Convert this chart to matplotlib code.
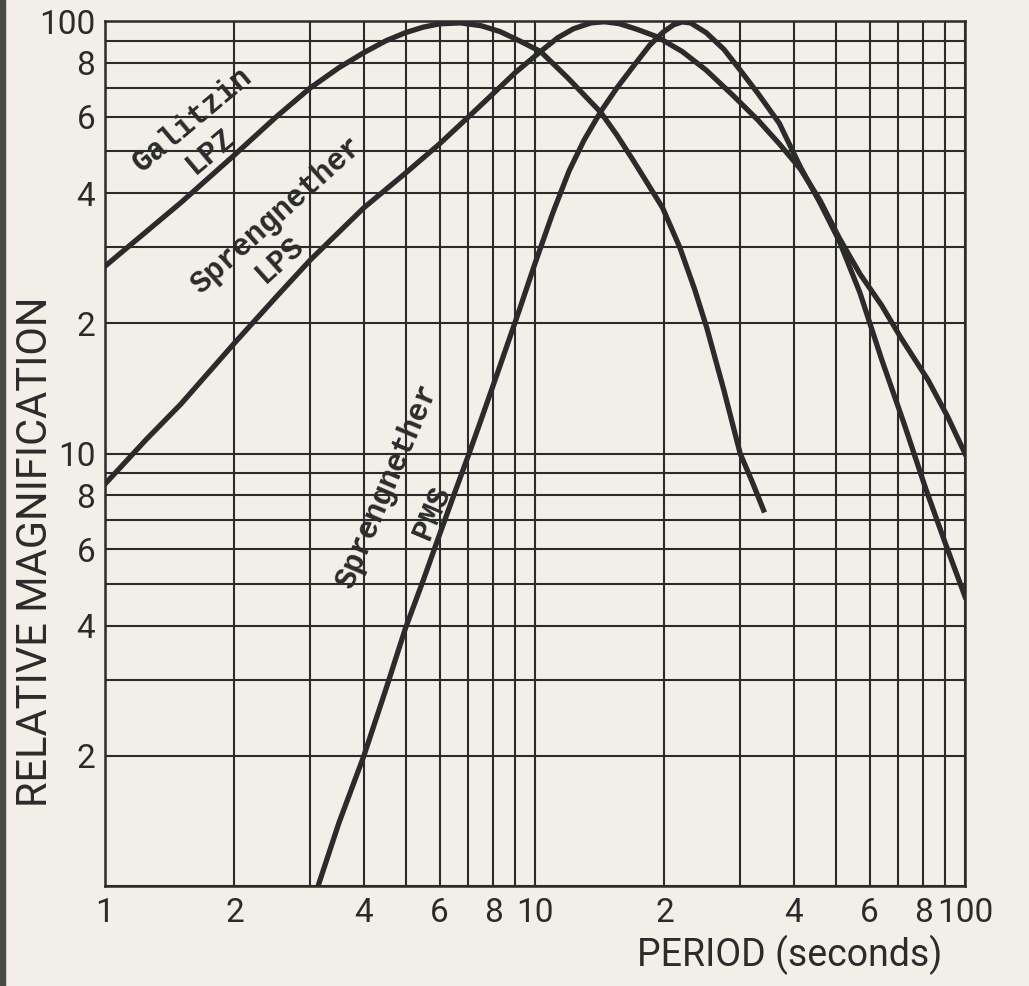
import matplotlib.pyplot as plt
from matplotlib.patches import Rectangle

# relative magnification curves, period (s) vs magnification
galitzin_t = [1.0, 1.5, 2.0, 2.5, 3.0, 3.5, 4.0, 4.5, 5.0, 5.5, 6.0, 6.7, 7.5, 8.3,
              9.2, 10.3, 11.9, 13.0, 14.2, 15.5, 16.9, 18.3, 19.8, 21.7, 23.5,
              25.1, 27.5, 30.0, 32.0, 34.0]
galitzin_m = [27.1, 38.0, 49.0, 60.0, 70.0, 78.0, 84.5, 90.0, 94.0, 96.8, 98.5, 99.0,
              97.5, 94.5, 90.0, 85.0, 74.0, 67.5, 61.6, 54.5, 47.7, 42.0, 37.0,
              30.0, 24.0, 19.5, 14.0, 10.0, 8.6, 7.4]

lps_t = [1.0, 1.25, 1.5, 2.0, 2.5, 3.0, 4.0, 5.0, 6.0, 7.0, 8.0, 9.0, 10.3, 11.3,
         12.3, 13.5, 14.5, 15.7, 17.2, 19.2, 22.0, 25.0, 29.0, 33.0, 37.0, 41.4,
         46.0, 51.0, 57.0, 64.0, 71.0, 82.0, 91.0, 100.0]
lps_m = [8.5, 10.8, 13.0, 18.0, 23.0, 28.0, 37.0, 44.5, 52.0, 60.0, 68.0, 76.0, 85.0,
         91.5, 96.0, 99.0, 99.6, 98.6, 95.8, 92.0, 85.0, 77.0, 67.0, 59.0, 52.0,
         45.5, 38.5, 31.5, 26.0, 22.0, 18.5, 14.8, 12.2, 10.0]

pms_t = [3.13, 3.5, 4.0, 4.5, 5.0, 5.5, 6.0, 6.5, 7.0, 7.5, 8.3, 9.2, 10.0, 11.0,
         12.0, 13.0, 14.2, 15.5, 17.0, 18.5, 19.8, 21.0, 22.0, 23.0, 25.0, 27.5,
         30.0, 33.0, 37.0, 41.4, 46.0, 51.0, 57.0, 64.0, 72.0, 81.0, 90.0, 100.0]
pms_m = [1.0, 1.4, 2.0, 2.85, 3.95, 5.1, 6.5, 8.1, 9.9, 12.0, 16.0, 21.5, 27.5, 36.0,
         45.0, 53.0, 61.6, 70.0, 79.0, 88.0, 94.0, 98.0, 99.5, 99.0, 94.0, 86.0,
         77.0, 68.0, 58.0, 46.0, 38.0, 31.0, 23.5, 16.5, 11.8, 8.3, 6.2, 4.67]

grid_vals = [1, 2, 3, 4, 5, 6, 7, 8, 9, 10, 20, 30, 40, 50, 60, 70, 80, 90, 100]
x_ticks = [1, 2, 4, 6, 8, 10, 20, 40, 60, 80, 100]
x_labels = ["1", "2", "4", "6", "8", "10", "2", "4", "6", "8", "100"]
y_ticks = [2, 4, 6, 8, 10, 20, 40, 60, 80, 100]
y_labels = ["2", "4", "6", "8", "10", "2", "4", "6", "8", "100"]

paper = "#f1efe7"
ink = "#2b2b2b"

fig = plt.figure(figsize=(10.29, 9.86), dpi=100, facecolor=paper)
ax = fig.add_axes([105 / 1029, 100 / 986, 860 / 1029, 865 / 986])
ax.set_facecolor(paper)
ax.set_xscale("log")
ax.set_yscale("log")
ax.set_xlim(1, 100)
ax.set_ylim(1, 100)

for v in grid_vals:
    ax.axvline(v, color=ink, lw=1.5, zorder=1)
    ax.axhline(v, color=ink, lw=1.5, zorder=1)
for s in ax.spines.values():
    s.set_color(ink)
    s.set_linewidth(1.8)

ax.set_xticks(x_ticks)
ax.set_xticklabels(x_labels)
ax.set_yticks(y_ticks)
ax.set_yticklabels(y_labels)
ax.minorticks_off()
ax.tick_params(length=0, labelsize=24, colors=ink)
ax.tick_params(axis="x", pad=8)
ax.tick_params(axis="y", pad=7)
for lab in ax.get_xticklabels() + ax.get_yticklabels():
    lab.set_fontfamily("Roboto")

for t, m in [(galitzin_t, galitzin_m), (lps_t, lps_m), (pms_t, pms_m)]:
    ax.plot(t, m, color=ink, lw=3.8, solid_joinstyle="round", zorder=3)

lbl = dict(family="Liberation Mono", weight="bold", fontsize=22, color=ink,
           ha="center", va="center", zorder=4)
ax.text(1.60, 59.0, "Galitzin", rotation=40, **lbl)
ax.text(1.76, 50.0, "LPZ", rotation=40, **lbl)
ax.text(2.51, 35.5, "Sprengnether", rotation=42, **lbl)
ax.text(2.55, 28.0, "LPS", rotation=42, **lbl)
ax.text(4.53, 8.4, "Sprengnether", rotation=67, **lbl)
ax.text(5.76, 7.3, "PMS", rotation=67, **lbl)

fig.text(36 / 1029, 1 - 552 / 986, "RELATIVE MAGNIFICATION", rotation=90,
         ha="center", va="center", fontsize=30, family="Roboto", color=ink)
fig.text(790 / 1029, 1 - 955 / 986, "PERIOD (seconds)", ha="center", va="center",
         fontsize=27, family="Roboto", color=ink)

# dark edge of the scanned page
fig.patches.append(Rectangle((0, 0), 5 / 1029, 1, transform=fig.transFigure,
                             color="#4a4a45", zorder=0))

fig.savefig("out.png", dpi=100, facecolor=paper)
